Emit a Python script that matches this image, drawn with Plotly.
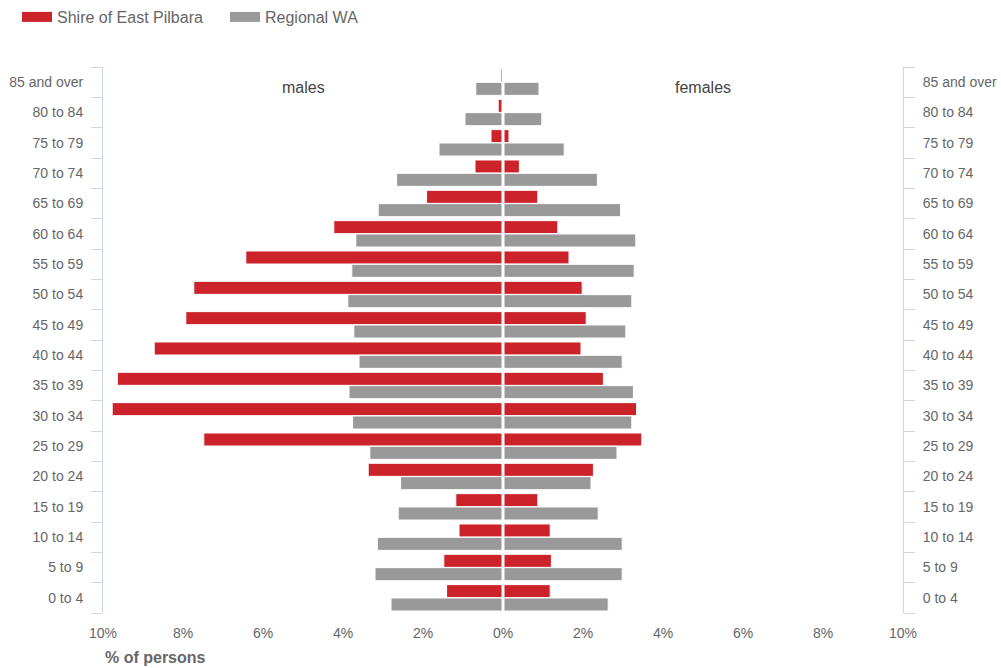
import plotly.graph_objects as go

age_groups = ["0 to 4", "5 to 9", "10 to 14", "15 to 19", "20 to 24", "25 to 29",
              "30 to 34", "35 to 39", "40 to 44", "45 to 49", "50 to 54", "55 to 59",
              "60 to 64", "65 to 69", "70 to 74", "75 to 79", "80 to 84", "85 and over"]

shire_males = [1.41, 1.48, 1.10, 1.18, 3.37, 7.48, 9.77, 9.64, 8.72, 7.93, 7.73, 6.43,
               4.23, 1.91, 0.70, 0.30, 0.12, 0.06]
regional_males = [2.80, 3.20, 3.14, 2.62, 2.56, 3.33, 3.76, 3.85, 3.60, 3.73, 3.88, 3.78,
                  3.68, 3.12, 2.66, 1.60, 0.95, 0.68]
shire_females = [1.18, 1.21, 1.18, 0.87, 2.26, 3.47, 3.34, 2.51, 1.95, 2.08, 1.98, 1.65,
                 1.37, 0.87, 0.41, 0.15, 0.0, 0.0]
regional_females = [2.63, 2.98, 2.98, 2.38, 2.20, 2.85, 3.22, 3.26, 2.98, 3.07, 3.22, 3.28,
                    3.32, 2.94, 2.36, 1.53, 0.97, 0.90]

x_tick_vals = [-10, -8, -6, -4, -2, 0, 2, 4, 6, 8, 10]
x_tick_text = ["10%", "8%", "6%", "4%", "2%", "0%", "2%", "4%", "6%", "8%", "10%"]

RED = "#cc2229"
GRAY = "#999999"
FONT = "Liberation Sans, Arial, sans-serif"
AXIS_COL = "#ccd6eb"

fig = go.Figure()

bar_w = 0.43
bar_line = dict(color="white", width=1)

fig.add_trace(go.Bar(y=age_groups, x=[-v for v in shire_males], orientation="h",
                     marker=dict(color=RED, line=bar_line), width=bar_w, offset=0.005,
                     name="Shire of East Pilbara", showlegend=False, yaxis="y"))
fig.add_trace(go.Bar(y=age_groups, x=[-v for v in regional_males], orientation="h",
                     marker=dict(color=GRAY, line=bar_line), width=bar_w, offset=-0.435,
                     name="Regional WA", showlegend=False, yaxis="y"))
fig.add_trace(go.Bar(y=age_groups, x=shire_females, orientation="h",
                     marker=dict(color=RED, line=bar_line), width=bar_w, offset=0.005,
                     name="Shire of East Pilbara", showlegend=False, yaxis="y2"))
fig.add_trace(go.Bar(y=age_groups, x=regional_females, orientation="h",
                     marker=dict(color=GRAY, line=bar_line), width=bar_w, offset=-0.435,
                     name="Regional WA", showlegend=False, yaxis="y2"))

# legend entries (wide rectangular swatches)
fig.add_trace(go.Scatter(x=[None], y=[None], mode="lines", line=dict(color=RED, width=13),
                         name="Shire of East Pilbara", showlegend=True))
fig.add_trace(go.Scatter(x=[None], y=[None], mode="lines", line=dict(color=GRAY, width=13),
                         name="Regional WA", showlegend=True))

yaxis_common = dict(
    type="category", categoryorder="array", categoryarray=age_groups,
    range=[-0.5, len(age_groups) - 0.5],
    showline=True, linecolor=AXIS_COL, linewidth=1,
    ticks="outside", ticklen=11, tickcolor=AXIS_COL, tickwidth=1, tickson="boundaries",
    ticklabelstandoff=16, automargin=False,
    showgrid=False, zeroline=False,
    tickfont=dict(family=FONT, size=14, color="#666666"),
    fixedrange=True,
)

fig.update_layout(
    width=1001, height=668,
    margin=dict(l=103, r=98, t=67, b=55),
    paper_bgcolor="white", plot_bgcolor="white",
    barmode="overlay",
    font=dict(family=FONT, color="#666666"),
    xaxis=dict(range=[-10, 10], tickvals=x_tick_vals, ticktext=x_tick_text,
               showgrid=False, zeroline=False, showline=False, ticks="",
               ticklabelstandoff=10, automargin=False,
               tickfont=dict(family=FONT, size=14, color="#666666")),
    yaxis=dict(side="left", **yaxis_common),
    yaxis2=dict(side="right", overlaying="y", **yaxis_common),
    legend=dict(orientation="h", xref="container", yref="container", x=0.017, y=1.0,
                xanchor="left", yanchor="top", itemwidth=30, entrywidth=163,
                font=dict(family=FONT, size=16, color="#666666"),
                bgcolor="rgba(0,0,0,0)"),
    showlegend=True,
    shapes=[dict(type="line", xref="x", yref="paper", x0=0, x1=0, y0=0, y1=1,
                 line=dict(color="white", width=3), layer="above")],
    annotations=[
        dict(text="males", x=-5, y=0.963, xref="x", yref="paper", showarrow=False,
             font=dict(family=FONT, size=16, color="#444444"), xanchor="center", yanchor="middle"),
        dict(text="females", x=5, y=0.963, xref="x", yref="paper", showarrow=False,
             font=dict(family=FONT, size=16, color="#444444"), xanchor="center", yanchor="middle"),
        dict(text="<b>% of persons</b>", x=0, y=-0.082, xref="paper", yref="paper", showarrow=False,
             font=dict(family=FONT, size=16, color="#666666"), xanchor="left", yanchor="middle"),
    ],
)

fig.write_html("out.html")
